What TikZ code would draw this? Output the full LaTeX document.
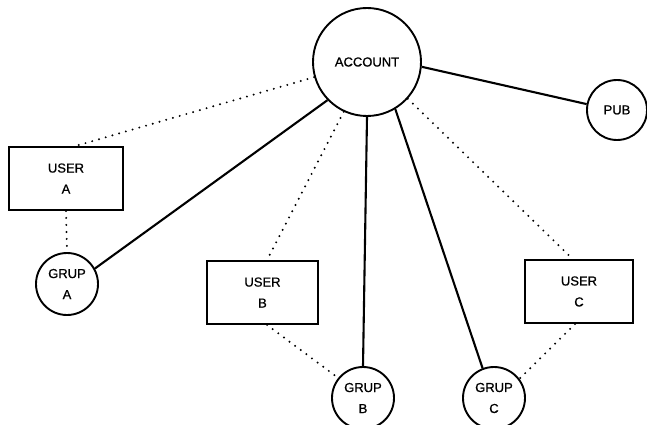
\documentclass[tikz,border=0pt]{standalone}
\usepackage{fontspec}
\setmainfont{Liberation Sans}
\newfontfamily\plotfont[FakeBold=0.8]{Liberation Sans}
\begin{document}
\begin{tikzpicture}[x=1pt,y=-1pt,
  lbl/.style={font=\plotfont\fontsize{13}{21}\selectfont, align=center, inner sep=0pt},
  bigcirc/.style={lbl, draw, circle, line width=1.9pt, minimum size=108pt},
  smallcirc/.style={lbl, draw, circle, line width=1.9pt, minimum size=62pt},
  userbox/.style={lbl, draw, rectangle, line width=1.9pt, minimum height=63pt},
  solidlink/.style={line width=2.1pt},
  dotlink/.style={line width=2.2pt, line cap=round, dash pattern=on 0pt off 7pt}]
\useasboundingbox (0,0) rectangle (647,425);

\node[bigcirc] (account) at (367,62) {ACCOUNT};
\node[smallcirc, minimum size=60pt] (pub) at (617,110) {PUB};
\node[userbox, minimum width=114pt] (userA) at (66,178.5) {USER\\A};
\node[smallcirc] (grupA) at (67,284) {GRUP\\A};
\node[userbox, minimum width=111pt] (userB) at (262.5,292.5) {USER\\B};
\node[smallcirc] (grupB) at (363,398) {GRUP\\B};
\node[userbox, minimum width=108pt] (userC) at (579,291.5) {USER\\C};
\node[smallcirc] (grupC) at (494,398) {GRUP\\C};

% solid links
\draw[solidlink] (account.224) -- (grupA.29);
\draw[solidlink] (account.270) -- (grupB.90);
\draw[solidlink] (account.301) -- (grupC.111);
\draw[solidlink] (account.355) -- (pub.169);

% dotted links
\draw[dotlink] (account.196) -- (userA.74);
\draw[dotlink] (userA.south) -- (grupA.north);
\draw[dotlink] (account.245) -- (userB.82);
\draw[dotlink] (userB.278) -- (grupB.141);
\draw[dotlink] (account.318) -- (userC.101);
\draw[dotlink] (userC.263) -- (grupC.37);
\end{tikzpicture}
\end{document}
